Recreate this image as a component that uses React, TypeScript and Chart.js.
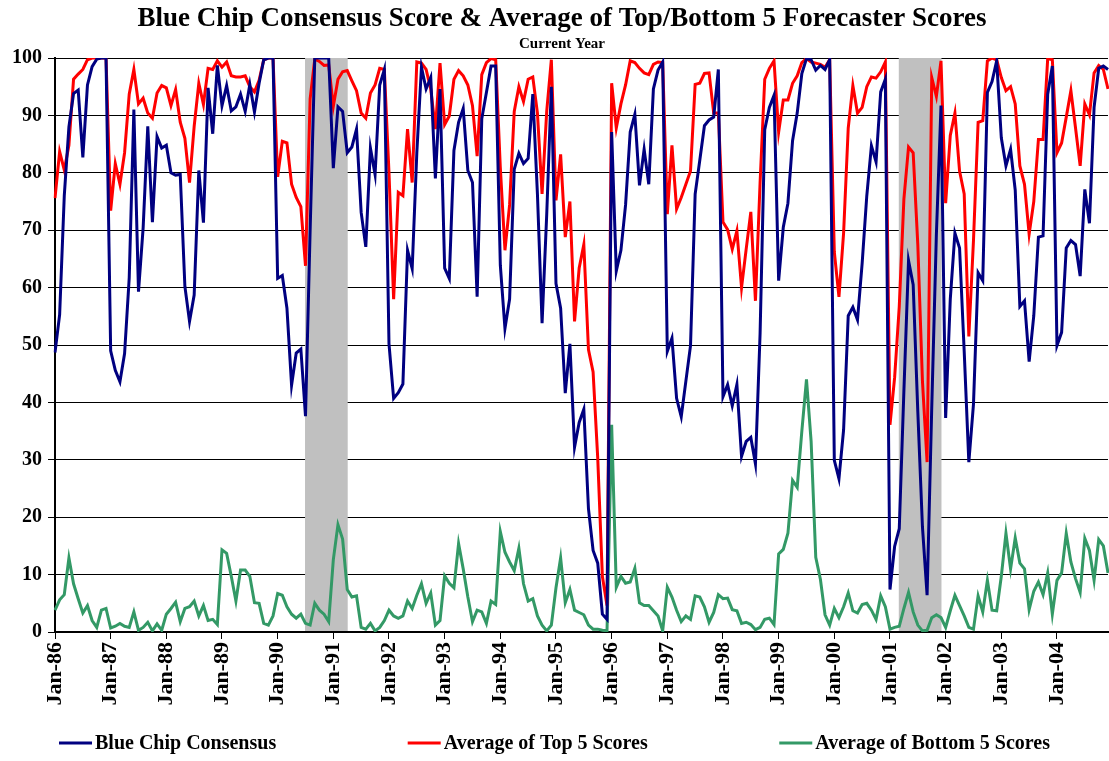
import React, { useEffect, useRef } from "react";
import { Chart, registerables } from "chart.js";

Chart.register(...registerables);

const FONT = '"Liberation Serif", "Times New Roman", serif';

const yearSuffixes = ["86", "87", "88", "89", "90", "91", "92", "93", "94", "95", "96", "97", "98", "99", "00", "01", "02", "03", "04"];
const monthNames = ["Jan", "Feb", "Mar", "Apr", "May", "Jun", "Jul", "Aug", "Sep", "Oct", "Nov", "Dec"];
const categories: string[] = [];
for (const y of yearSuffixes) for (const m of monthNames) categories.push(`${m}-${y}`);

const recessions: [string, string][] = [
  ["Jul-90", "Mar-91"],
  ["Mar-01", "Nov-01"],
];

const blueChipConsensus = [
  48.7, 55.3, 76, 88, 93.8, 94.4, 82.7, 95.3, 98.5, 99.8, 100, 100,
  49, 45.6, 43.6, 48.5, 61.7, 91, 59.3, 70.4, 88.1, 71.4, 86.3, 84.3,
  84.8, 80, 79.6, 79.7, 60.2, 54.1, 58.7, 80.4, 71.3, 94.8, 86.8, 98.7,
  91.7, 95.2, 90.8, 91.5, 93.7, 90.7, 95.4, 90.6, 95.6, 99.7, 100, 100,
  61.6, 62.1, 56.4, 43, 48.6, 49.3, 37.6, 70, 100, 100, 100, 100,
  80.8, 91.5, 90.7, 83.5, 84.5, 87.6, 73.1, 67.1, 84.3, 79.7, 95.3, 98,
  50.2, 40.7, 41.7, 43.2, 66.5, 63.3, 83.5, 98.4, 94.6, 96.6, 79, 94.6,
  63.4, 61.6, 83.9, 88.8, 91.2, 80.4, 78.3, 58.4, 89.4, 94, 98.6, 98.6,
  63.9, 52.9, 58, 80.6, 83.4, 81.6, 82.5, 93.7, 76.3, 53.8, 72.7, 95,
  60.7, 56.4, 41.6, 50.2, 32.2, 36.5, 38.8, 21.5, 14.2, 12, 3.1, 2.2,
  87.1, 62.9, 66.5, 74.4, 87.1, 90.2, 77.8, 84.1, 78, 94.6, 97.9, 99.3,
  48.9, 51.2, 40.7, 37.5, 43.7, 49.9, 76.3, 82.2, 88.2, 89.2, 89.7, 98,
  41, 43.1, 39.4, 43.1, 30.6, 33.2, 33.9, 29.3, 52, 87.5, 91.4, 93.5,
  61.2, 70.5, 74.7, 85.6, 90.4, 97.3, 99.9, 99.7, 97.9, 98.7, 98, 99.7,
  29.9, 26.7, 35.2, 55.1, 56.6, 54.4, 64.2, 76, 84.7, 81.9, 94.1, 96.3,
  7.4, 14.9, 18, 42, 64.7, 60.5, 38.4, 18.3, 6.4, 39, 69.2, 91.7,
  37.3, 58, 69.5, 66.9, 48.9, 29.6, 39.7, 62.6, 61.2, 94, 95.9, 99.5,
  86.1, 81.2, 84.1, 77, 56.7, 57.7, 47.1, 55.1, 68.8, 69, 93.7, 98.6,
  49.9, 52.2, 66.9, 68.2, 67.5, 62, 77.1, 71.2, 91.4, 98.2, 98.6, 98,
];

const top5Average = [
  75.6, 83.7, 80.5, 84.8, 96.3, 97.2, 98, 99.7, 100, 100, 100, 100,
  73.4, 81.6, 78, 83.5, 93.7, 98, 92, 93, 90.4, 89.5, 93.9, 95.2,
  94.8, 91.7, 94.5, 88.8, 86, 78.3, 88.1, 95.6, 91.9, 98.2, 98, 99.5,
  98.4, 99.3, 96.9, 96.7, 96.7, 96.9, 95, 94.1, 96.1, 99.7, 100, 100,
  79.3, 85.5, 85.2, 78, 75.7, 74.1, 63.8, 92.9, 99.8, 99.4, 98.7, 98.8,
  91.6, 96.3, 97.6, 97.8, 96, 94.3, 90.4, 89.5, 93.9, 95.3, 98.2, 98,
  80, 58, 76.6, 76, 87.6, 78.3, 99.3, 99.1, 98, 94.6, 87.6, 99.1,
  88.4, 89.9, 96.3, 97.8, 96.9, 95.3, 91.7, 82.9, 97.1, 99.2, 99.9, 99.7,
  80.9, 66.5, 74.4, 90.7, 95, 92.4, 96.3, 96.7, 90.4, 76.3, 90.7, 99.7,
  75.2, 83.2, 68.8, 75, 54.1, 63.4, 67.5, 49.2, 45.3, 30.3, 9.7, 4.6,
  95.6, 87.8, 92, 95.3, 99.5, 99.2, 98.2, 97.4, 97.1, 98.9, 99.3, 99.2,
  72.8, 84.8, 73.7, 75.7, 78, 80.3, 95.4, 95.6, 97.3, 97.4, 90.4, 90.4,
  71.4, 70.1, 66.7, 69.9, 60, 66.7, 73.2, 57.7, 78.3, 96.3, 98.2, 99.5,
  87.1, 92.7, 92.7, 95.6, 96.9, 99.2, 99.9, 99.3, 99.1, 98.9, 98.4, 99.7,
  66.2, 58.4, 69.5, 87.8, 95.2, 90.4, 91.4, 95, 96.7, 96.5, 97.6, 99.3,
  36.1, 44.3, 56.7, 75.4, 84.5, 83.5, 67.5, 43.7, 29.6, 96.6, 93.3, 99.5,
  74.7, 86.5, 90.4, 80.3, 76.3, 51.5, 68.2, 88.8, 89.1, 99.5, 100, 99.7,
  96.6, 94.3, 95, 92, 81.2, 78, 69.3, 75, 85.8, 85.8, 99.9, 99.7,
  83.5, 85.2, 89.7, 94.3, 87.8, 81.2, 92, 90.1, 97.4, 98.7, 98, 94.6,
];

const bottom5Average = [
  3.8, 5.6, 6.5, 12.9, 8.4, 5.8, 3.3, 4.6, 2, 0.8, 3.8, 4.1,
  0.7, 1, 1.5, 1, 0.8, 3.5, 0.3, 0.8, 1.7, 0.2, 1.4, 0.3,
  3.1, 4.1, 5.2, 1.8, 4.1, 4.4, 5.4, 2.8, 4.6, 2, 2.2, 1.3,
  14.3, 13.7, 9.7, 5.4, 10.8, 10.8, 9.7, 5.1, 5, 1.5, 1.2, 2.8,
  6.7, 6.4, 4.4, 3.1, 2.4, 3.1, 1.5, 1.2, 5, 3.8, 3.1, 1.8,
  12.6, 18.7, 16.2, 7.4, 6.1, 6.3, 0.8, 0.5, 1.5, 0.2, 0.8, 2,
  3.8, 2.8, 2.4, 2.8, 5.4, 4.1, 6.4, 8.4, 5, 6.8, 1.2, 2,
  9.8, 8.5, 7.7, 15.4, 11, 6.1, 1.8, 3.8, 3.5, 1.5, 5.4, 4.8,
  17.5, 13.9, 12.2, 10.7, 14.6, 8.4, 5.4, 5.8, 2.8, 1.2, 0.2, 1.2,
  7.7, 12.9, 5.1, 7.4, 3.8, 3.4, 3, 1.2, 0.5, 0.5, 0.3, 0.2,
  36.1, 7.8, 9.7, 8.5, 8.7, 11.1, 5.1, 4.6, 4.6, 3.7, 2.8, 0.2,
  7.8, 6.1, 3.8, 1.8, 2.8, 2.2, 6.3, 6.1, 4.4, 1.7, 3.4, 6.5,
  5.8, 5.9, 3.9, 3.7, 1.5, 1.7, 1.3, 0.4, 0.8, 2.2, 2.4, 1.3,
  13.6, 14.4, 17.2, 26.4, 25.2, 35, 44, 33.2, 13, 9.2, 3, 1.2,
  4.1, 2.5, 4.4, 6.8, 3.7, 3.3, 4.8, 5, 3.8, 2.2, 6.3, 4.4,
  0.5, 0.8, 1, 4.1, 6.9, 3.5, 1.2, 0.2, 0.3, 2.5, 3, 2.5,
  0.8, 3.7, 6.4, 4.6, 2.8, 0.8, 0.5, 6.3, 3.5, 9, 3.8, 3.7,
  9.7, 17.2, 11, 16.4, 12, 11, 3.9, 7.1, 8.7, 6.5, 10.3, 3.1,
  9, 10.3, 17.2, 12.2, 9.3, 6.9, 16.3, 14.2, 9, 16.1, 15, 10.3,
];

const seriesNames = ["Blue Chip Consensus", "Average of Top 5 Scores", "Average of Bottom 5 Scores"];
const seriesColors = ["#000080", "#FF0000", "#339966"];

const titleText = "Blue Chip Consensus Score & Average of Top/Bottom 5 Forecaster Scores";
const subtitleText = "Current Year";

const W = 1109;
const H = 761;

const bandPlugin = {
  id: "recessionBands",
  beforeDatasetsDraw(chart: any) {
    const { ctx, chartArea, scales } = chart;
    const x = scales.x;
    ctx.save();
    ctx.fillStyle = "#C0C0C0";
    for (const [s, e] of recessions) {
      const i0 = categories.indexOf(s);
      const i1 = categories.indexOf(e);
      const x0 = x.getPixelForValue(i0 - 0.1);
      const x1 = x.getPixelForValue(i1 + 1.1);
      ctx.fillRect(x0, chartArea.top, x1 - x0, chartArea.bottom - chartArea.top - 1);
    }
    ctx.restore();
  },
};

const textPlugin = {
  id: "titlesAndLegend",
  afterDraw(chart: any) {
    const { ctx } = chart;
    ctx.save();
    ctx.fillStyle = "#000";
    ctx.textAlign = "center";
    ctx.textBaseline = "alphabetic";
    ctx.font = `bold 27px ${FONT}`;
    ctx.fillText(titleText, 562, 26);
    ctx.font = `bold 15px ${FONT}`;
    ctx.fillText(subtitleText, 562, 48);

    // legend
    ctx.font = `bold 20px ${FONT}`;
    const markerLen = 33;
    const markerGap = 3;
    const widths = seriesNames.map((n) => markerLen + markerGap + ctx.measureText(n).width);
    const totalSpan = 991;
    const gap = (totalSpan - widths.reduce((a, b) => a + b, 0)) / (seriesNames.length - 1);
    let xPos = W / 2 - totalSpan / 2;
    const yMid = 743;
    ctx.textAlign = "left";
    ctx.textBaseline = "middle";
    seriesNames.forEach((n, i) => {
      ctx.strokeStyle = seriesColors[i];
      ctx.lineWidth = 3;
      ctx.beginPath();
      ctx.moveTo(xPos, yMid);
      ctx.lineTo(xPos + markerLen, yMid);
      ctx.stroke();
      ctx.fillStyle = "#000";
      ctx.fillText(n, xPos + markerLen + markerGap, yMid + 1);
      xPos += widths[i] + gap;
    });
    ctx.restore();
  },
};

export default function App() {
  const ref = useRef<HTMLCanvasElement>(null);
  useEffect(() => {
    const canvas = ref.current;
    if (!canvas) return;
    const datasetsValues = [blueChipConsensus, top5Average, bottom5Average];
    const chart = new Chart(canvas, {
      type: "line",
      data: {
        labels: categories,
        datasets: datasetsValues.map((vals, i) => ({
          label: seriesNames[i],
          data: vals,
          borderColor: seriesColors[i],
          backgroundColor: seriesColors[i],
          borderWidth: 3,
          pointRadius: 0,
          tension: 0,
          fill: false,
        })),
      },
      options: {
        responsive: false,
        animation: false,
        devicePixelRatio: 1,
        layout: { padding: { left: 0, right: 1, top: 58, bottom: 45 } },
        plugins: {
          legend: { display: false },
          title: { display: false },
          tooltip: { enabled: false },
        },
        scales: {
          x: {
            type: "category",
            offset: false,
            border: { color: "#000", width: 2 },
            grid: {
              drawOnChartArea: false,
              drawTicks: true,
              tickLength: 7,
              lineWidth: 1,
              tickColor: (c: any) => (c.index % 12 === 0 ? "#000" : "rgba(0,0,0,0)"),
            },
            ticks: {
              autoSkip: false,
              maxRotation: 90,
              minRotation: 90,
              padding: 3,
              color: "#000",
              font: { family: FONT, size: 22, weight: "bold" },
              callback: (_v: any, i: number) => (i % 12 === 0 ? categories[i] : ""),
            },
            afterFit: (s: any) => {
              s.height = H - 632 - 45;
              s.paddingLeft = 0;
              s.paddingRight = 0;
            },
          },
          y: {
            min: 0,
            max: 100,
            border: { color: "#000", width: 2 },
            grid: { color: "#000", lineWidth: 1, tickLength: 7, drawTicks: true },
            ticks: {
              stepSize: 10,
              padding: 6,
              color: "#000",
              font: { family: FONT, size: 20, weight: "bold" },
            },
            afterFit: (s: any) => {
              s.width = 55;
            },
          },
        },
      } as any,
      plugins: [bandPlugin, textPlugin],
    });
    return () => chart.destroy();
  }, []);
  return (
    <div style={{ position: "fixed", left: 0, top: 0, width: W, height: H, background: "#fff" }}>
      <canvas ref={ref} width={W} height={H} style={{ width: W, height: H, display: "block" }} />
    </div>
  );
}
